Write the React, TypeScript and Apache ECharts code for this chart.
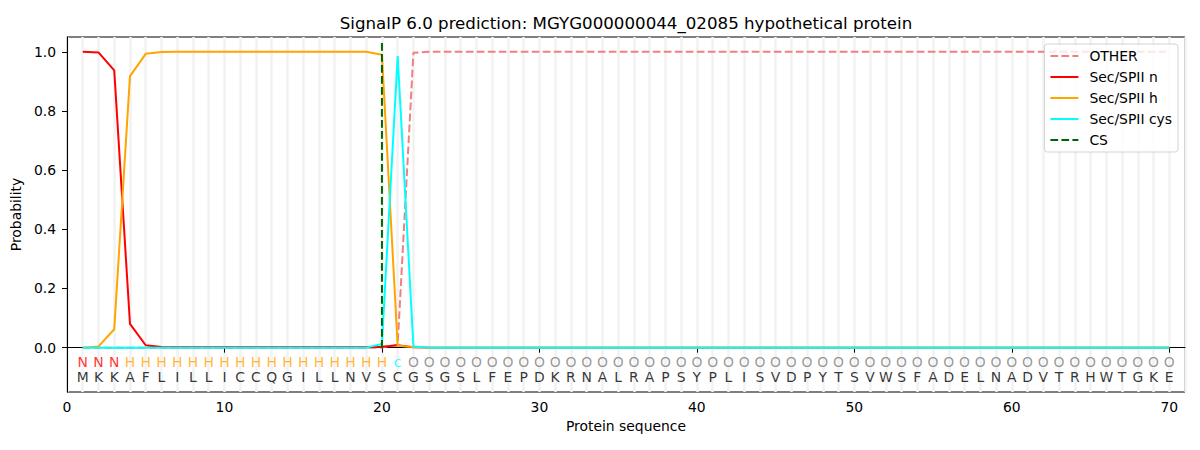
import React, { useEffect, useRef } from "react";
import * as echarts from "echarts";

const TITLE = "SignalP 6.0 prediction: MGYG000000044_02085 hypothetical protein";
const SEQUENCE = "MKKAFLILLICCQGILLNVSCGSGSLFEPDKRNALRAPSYPLISVDPYTSVWSFADELNADVTRHWTGKE";
const REGION_LABELS =
  "NNN" + "HHHHHHHHHHHHHHHHH" + "c" +
  "OOOOOOOOOO" + "OOOOOOOOOO" + "OOOOOOOOOO" + "OOOOOOOOOO" + "OOOOOOOOO";

const otherProb = [
  0, 0, 0, 0, 0, 0, 0, 0, 0, 0,
  0, 0, 0, 0, 0, 0, 0, 0, 0, 0,
  0.01, 0.997, 1, 1, 1, 1, 1, 1, 1, 1,
  1, 1, 1, 1, 1, 1, 1, 1, 1, 1,
  1, 1, 1, 1, 1, 1, 1, 1, 1, 1,
  1, 1, 1, 1, 1, 1, 1, 1, 1, 1,
  1, 1, 1, 1, 1, 1, 1, 1, 1, 1,
];
const nProb = [
  1.0, 0.998, 0.937, 0.08, 0.008, 0.002, 0.001, 0.001, 0.001, 0.001,
  0.001, 0.001, 0.001, 0.001, 0.001, 0.001, 0.001, 0.001, 0.001, 0.003,
  0.008, 0.001, 0, 0, 0, 0, 0, 0, 0, 0,
  0, 0, 0, 0, 0, 0, 0, 0, 0, 0,
  0, 0, 0, 0, 0, 0, 0, 0, 0, 0,
  0, 0, 0, 0, 0, 0, 0, 0, 0, 0,
  0, 0, 0, 0, 0, 0, 0, 0, 0, 0,
];
const hProb = [
  0, 0.004, 0.062, 0.918, 0.993, 0.999, 1, 1, 1, 1,
  1, 1, 1, 1, 1, 1, 1, 1, 1, 0.99,
  0.006, 0.002, 0, 0, 0, 0, 0, 0, 0, 0,
  0, 0, 0, 0, 0, 0, 0, 0, 0, 0,
  0, 0, 0, 0, 0, 0, 0, 0, 0, 0,
  0, 0, 0, 0, 0, 0, 0, 0, 0, 0,
  0, 0, 0, 0, 0, 0, 0, 0, 0, 0,
];
const cysProb = [
  0, 0, 0, 0, 0, 0, 0, 0, 0, 0,
  0, 0, 0, 0, 0, 0, 0, 0, 0, 0.012,
  0.986, 0.004, 0, 0, 0, 0, 0, 0, 0, 0,
  0, 0, 0, 0, 0, 0, 0, 0, 0, 0,
  0, 0, 0, 0, 0, 0, 0, 0, 0, 0,
  0, 0, 0, 0, 0, 0, 0, 0, 0, 0,
  0, 0, 0, 0, 0, 0, 0, 0, 0, 0,
];
const csPosition = 20;
const csSpan = [0, 1.035];

const xTicks = [0, 10, 20, 30, 40, 50, 60, 70];
const yTicks = [0, 0.2, 0.4, 0.6, 0.8, 1.0];

const labelColors: Record<string, string> = {
  N: "#ff0000",
  H: "#ffa500",
  c: "#00ffff",
  O: "#808080",
};

const FONT = "DejaVu Sans";

function toPairs(values: number[]) {
  return values.map((v, i) => [i + 1, v]);
}

export default function App() {
  const ref = useRef<HTMLDivElement>(null);
  useEffect(() => {
    if (!ref.current) return;
    const chart = echarts.init(ref.current, undefined, { renderer: "svg" });
    const seqData = SEQUENCE.split("").map((ch, i) => ({
      value: [i + 1, -0.1],
      name: ch,
    }));
    const regionData = REGION_LABELS.split("").map((ch, i) => ({
      value: [i + 1, -0.05],
      name: ch,
      label: { color: labelColors[ch] },
    }));
    const option: any = {
      animation: false,
      backgroundColor: "#ffffff",
      textStyle: { fontFamily: FONT },
      graphic: [
        {
          type: "text",
          x: 626,
          y: 23,
          style: {
            text: TITLE,
            fontSize: 16.67,
            fontFamily: FONT,
            fill: "#000",
            align: "center",
            verticalAlign: "middle",
          },
        },
      ],
      grid: {
        left: 67,
        right: 15,
        top: 37,
        bottom: 58,
        show: true,
        borderColor: "#000",
        borderWidth: 1,
        backgroundColor: "transparent",
        containLabel: false,
      },
      legend: {
        orient: "vertical",
        right: 22,
        top: 44,
        itemWidth: 28,
        itemHeight: 14,
        itemGap: 7,
        padding: [5, 6, 5, 5],
        borderColor: "#d3d3d3",
        borderWidth: 1,
        borderRadius: 3,
        backgroundColor: "rgba(255,255,255,0.8)",
        itemStyle: { opacity: 0 },
        textStyle: { fontSize: 13.9, fontFamily: FONT, color: "#000", padding: [0, 0, 0, 6] },
        data: ["OTHER", "Sec/SPII n", "Sec/SPII h", "Sec/SPII cys", "CS"],
      },
      xAxis: [
        {
          type: "value",
          min: 0,
          max: 71,
          name: "Protein sequence",
          nameLocation: "middle",
          nameGap: 26,
          nameTextStyle: { fontSize: 13.9, fontFamily: FONT, color: "#000" },
          axisLine: { show: true, lineStyle: { color: "#000", width: 1 } },
          axisTick: { show: true, length: 5, customValues: xTicks, lineStyle: { color: "#000" } },
          axisLabel: {
            show: true,
            customValues: xTicks,
            fontSize: 13.9,
            fontFamily: FONT,
            color: "#000",
            margin: 8,
          },
          splitLine: { show: false },
        },
        {
          type: "value",
          min: 0,
          max: 71,
          interval: 1,
          position: "top",
          axisLine: { show: false },
          axisTick: { show: false },
          axisLabel: { show: false },
          splitLine: { show: true, lineStyle: { color: "#f2f2f2", width: 2.5 } },
        },
      ],
      yAxis: {
        type: "value",
        min: -0.15,
        max: 1.05,
        name: "Probability",
        nameLocation: "middle",
        nameGap: 32,
        nameRotate: 90,
        nameTextStyle: { fontSize: 13.9, fontFamily: FONT, color: "#000" },
        axisLine: { show: true, lineStyle: { color: "#000", width: 1 } },
        axisTick: { show: true, length: 5, customValues: yTicks, lineStyle: { color: "#000" } },
        axisLabel: {
          show: true,
          customValues: yTicks,
          formatter: (v: number) => v.toFixed(1),
          fontSize: 13.9,
          fontFamily: FONT,
          color: "#000",
          margin: 11,
        },
        splitLine: { show: false },
      },
      series: [
        {
          name: "OTHER",
          type: "line",
          symbol: "none",
          data: toPairs(otherProb),
          itemStyle: { color: "#f08080" },
          lineStyle: { color: "#f08080", width: 2, type: [7.7, 3.3] },
          z: 3,
        },
        {
          name: "Sec/SPII n",
          type: "line",
          symbol: "none",
          data: toPairs(nProb),
          itemStyle: { color: "#ff0000" },
          lineStyle: { color: "#ff0000", width: 2 },
          z: 4,
        },
        {
          name: "Sec/SPII h",
          type: "line",
          symbol: "none",
          data: toPairs(hProb),
          itemStyle: { color: "#ffa500" },
          lineStyle: { color: "#ffa500", width: 2 },
          z: 5,
        },
        {
          name: "Sec/SPII cys",
          type: "line",
          symbol: "none",
          data: toPairs(cysProb),
          itemStyle: { color: "#00ffff" },
          lineStyle: { color: "#00ffff", width: 2 },
          z: 6,
        },
        {
          name: "CS",
          type: "line",
          symbol: "none",
          data: csSpan.map((y) => [csPosition, y]),
          itemStyle: { color: "#006400" },
          lineStyle: { color: "#006400", width: 2, type: [7.7, 3.3] },
          z: 7,
        },
        {
          name: "sequence",
          type: "scatter",
          symbolSize: 0,
          silent: true,
          data: seqData,
          label: {
            show: true,
            position: "inside",
            formatter: (p: any) => p.name,
            fontSize: 13.9,
            fontFamily: FONT,
            color: "#000",
          },
          z: 8,
        },
        {
          name: "regions",
          type: "scatter",
          symbolSize: 0,
          silent: true,
          data: regionData,
          label: {
            show: true,
            position: "inside",
            formatter: (p: any) => p.name,
            fontSize: 13.9,
            fontFamily: FONT,
          },
          z: 8,
        },
      ],
    };
    chart.setOption(option);
    return () => chart.dispose();
  }, []);
  return (
    <div
      ref={ref}
      style={{ position: "fixed", left: 0, top: 0, width: 1200, height: 450 }}
    />
  );
}
